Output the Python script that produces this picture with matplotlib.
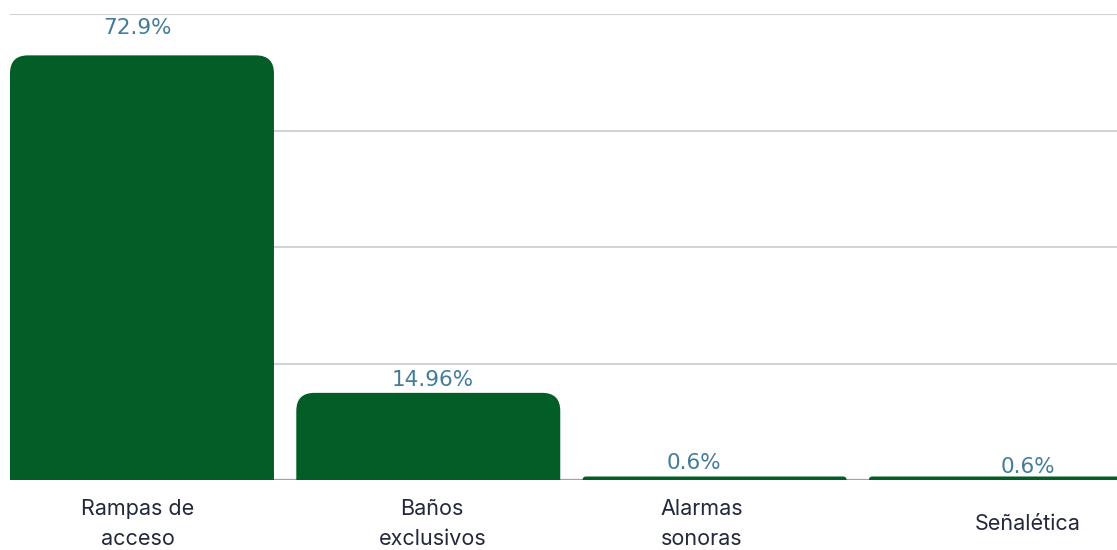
import matplotlib.pyplot as plt
from matplotlib.path import Path
from matplotlib.patches import PathPatch

# accessibility features and share of buildings that have them
categorias = ["Rampas de\nacceso", "Baños\nexclusivos", "Alarmas\nsonoras", "Señalética"]
porcentajes = [72.9, 14.96, 0.6, 0.6]
etiquetas = ["72.9%", "14.96%", "0.6%", "0.6%"]
yticks = [0, 20, 40, 60, 80]

verde = "#035d27"
azul = "#427c98"
texto = "#23283a"

W, H, DPI = 1117, 550, 100
fig = plt.figure(figsize=(W / DPI, H / DPI), dpi=DPI)
# axes spans to the right edge so the last bar is cut off
ax_l, ax_b, ax_r, ax_t = 10, 70, 1117, 536
ax = fig.add_axes([ax_l / W, ax_b / H, (ax_r - ax_l) / W, (ax_t - ax_b) / H])

ancho = 0.922
xmin, xmax = -ancho / 2, -ancho / 2 + (ax_r - ax_l) / 286.3
ax.set_xlim(xmin, xmax)
ax.set_ylim(yticks[0], yticks[-1])

px_x = (ax_r - ax_l) / (xmax - xmin)
px_y = (ax_t - ax_b) / (yticks[-1] - yticks[0])
pt = 72 / DPI


def barra_redondeada(ax, x, h, w, r_px=18):
    r = min(r_px, h * px_y)
    rx, ry = r / px_x, r / px_y
    x0, x1 = x - w / 2, x + w / 2
    verts = [(x0, 0), (x0, h - ry), (x0, h), (x0 + rx, h), (x1 - rx, h),
             (x1, h), (x1, h - ry), (x1, 0), (x0, 0)]
    codes = [Path.MOVETO, Path.LINETO, Path.CURVE3, Path.CURVE3, Path.LINETO,
             Path.CURVE3, Path.CURVE3, Path.LINETO, Path.CLOSEPOLY]
    ax.add_patch(PathPatch(Path(verts, codes), facecolor=verde, edgecolor="none",
                           zorder=2, clip_on=False))


for y in yticks[1:]:
    ax.axhline(y, color="#d2d2d8", lw=1.5, zorder=1)
ax.axhline(0, color="#a0a0aa", lw=1.6, zorder=1.5)

# small horizontal nudges (px) for the labels, and gap above each bar
dx_val = [-4, 4, -21, 27]
dy_val = [21, 7, 8, 4]
dx_cat = [-4, 4, -13, 27]

for i, (v, lab) in enumerate(zip(porcentajes, etiquetas)):
    barra_redondeada(ax, i, v, ancho)
    ax.annotate(lab, (i, v), xytext=(dx_val[i] * pt, dy_val[i] * pt),
                textcoords="offset points", ha="center", va="baseline",
                fontsize=15.5, color=azul, family="DejaVu Sans")
    ax.annotate(categorias[i], (i, 0), xytext=(dx_cat[i] * pt, -44 * pt),
                textcoords="offset points", ha="center", va="center",
                multialignment="center", linespacing=1.6,
                fontsize=15.5, color=texto, family="Inter", annotation_clip=False)

ax.set_xticks([])
ax.set_yticks([])
for s in ax.spines.values():
    s.set_visible(False)

fig.savefig("out.png", dpi=DPI)
